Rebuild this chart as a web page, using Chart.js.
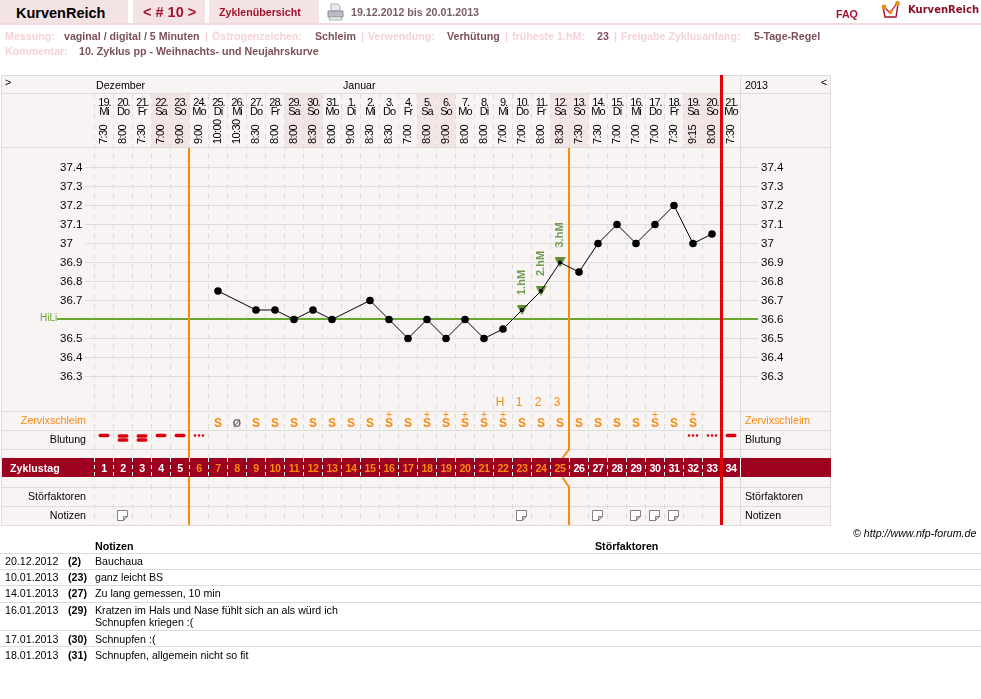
<!DOCTYPE html>
<html lang="de">
<head>
<meta charset="utf-8">
<title>KurvenReich – Zyklus 10</title>
<script src="https://cdn.jsdelivr.net/npm/chart.js@4/dist/chart.umd.min.js"></script>
<style>
  html,body{margin:0;padding:0;background:#fff;width:981px;height:699px;overflow:hidden}
  body{font-family:"Liberation Sans",Arial,sans-serif;font-size:8pt;color:#000}
  #wrap{position:absolute;left:0;top:0;width:981px;height:699px}
  .t{position:absolute;white-space:nowrap;line-height:14px}
  .b{font-weight:bold}
  .k{color:#f6d2d5;font-weight:bold}
  .v{color:#7d5058;font-weight:bold}
  .tab{position:absolute;top:0;height:23px;background:#f3e3e5}
  .hr{position:absolute;left:0;width:981px;height:1px;background:#dddbdb}
  svg{position:absolute}
</style>
</head>
<body>
<div id="wrap"><canvas id="cycle"></canvas></div>

<!-- page header -->
<div class="tab" style="left:0;width:128px"></div>
<div class="tab" style="left:133px;width:72px"></div>
<div class="tab" style="left:209px;width:110px"></div>
<div style="position:absolute;left:0;top:23px;width:981px;height:2px;background:#f2d9dc"></div>
<span class="t b" style="left:16px;top:5px;font-size:14.5px;line-height:16px">KurvenReich</span>
<span class="t b" style="left:143px;top:4px;font-size:14.5px;line-height:16px;color:#a5122b">&lt; # 10 &gt;</span>
<span class="t b" style="left:219px;top:5px;color:#a5122b">Zyklenübersicht</span>
<svg style="left:327px;top:3px" width="17" height="18" viewBox="0 0 17 18">
  <path d="M4 1h7l2 2v5H4z" fill="#e8eaee" stroke="#a9adb3"/>
  <path d="M1 8h15v6H1z" fill="#b9bdc3" stroke="#8b8f96"/>
  <path d="M3 14h11l1 3H2z" fill="#eef0f2" stroke="#a9adb3"/>
</svg>
<span class="t b" style="left:351px;top:5px;color:#7a5f66">19.12.2012 bis 20.01.2013</span>
<span class="t b" style="left:836px;top:7px;color:#a5122b">FAQ</span>
<svg style="left:881px;top:1px" width="20" height="18" viewBox="0 0 20 18">
  <path d="M2 6l2 10h11l2-13" fill="none" stroke="#a5122b" stroke-width="1.4"/>
  <path d="M3 6l6 6 7-10" fill="none" stroke="#a5122b" stroke-width="1.2"/>
  <circle cx="3" cy="6" r="2.4" fill="#f08a10"/><circle cx="9.500" cy="11" r="2" fill="#f08a10"/><circle cx="16.500" cy="2.500" r="2.400" fill="#f08a10"/>
</svg>
<span class="t b" style="left:908px;top:3px;font-family:'DejaVu Sans';font-size:10px;color:#8a0f26">KurvenReich</span>

<span class="t k" style="left:5px;top:29px">Messung:</span>
<span class="t v" style="left:64px;top:29px">vaginal / digital / 5 Minuten</span>
<span class="t k" style="left:205px;top:29px">|</span>
<span class="t k" style="left:212px;top:29px">Östrogenzeichen:</span>
<span class="t v" style="left:315px;top:29px">Schleim</span>
<span class="t k" style="left:361px;top:29px">|</span>
<span class="t k" style="left:368px;top:29px">Verwendung:</span>
<span class="t v" style="left:447px;top:29px">Verhütung</span>
<span class="t k" style="left:505px;top:29px">|</span>
<span class="t k" style="left:512px;top:29px">früheste 1.hM:</span>
<span class="t v" style="left:597px;top:29px">23</span>
<span class="t k" style="left:614px;top:29px">|</span>
<span class="t k" style="left:621px;top:29px">Freigabe Zyklusanfang:</span>
<span class="t v" style="left:754px;top:29px">5-Tage-Regel</span>
<span class="t k" style="left:5px;top:44px">Kommentar:</span>
<span class="t v" style="left:79px;top:44px">10. Zyklus pp - Weihnachts- und Neujahrskurve</span>

<span class="t" style="left:853px;top:526px;font-style:italic">© http://www.nfp-forum.de</span>

<!-- notes table -->
<span class="t b" style="left:95px;top:539px">Notizen</span>
<span class="t b" style="left:595px;top:539px">Störfaktoren</span>
<div class="hr" style="top:553px"></div>
<span class="t" style="left:5px;top:554px">20.12.2012</span><span class="t b" style="left:68px;top:554px">(2)</span><span class="t" style="left:95px;top:554px">Bauchaua</span>
<div class="hr" style="top:569px"></div>
<span class="t" style="left:5px;top:570px">10.01.2013</span><span class="t b" style="left:68px;top:570px">(23)</span><span class="t" style="left:95px;top:570px">ganz leicht BS</span>
<div class="hr" style="top:585px"></div>
<span class="t" style="left:5px;top:586px">14.01.2013</span><span class="t b" style="left:68px;top:586px">(27)</span><span class="t" style="left:95px;top:586px">Zu lang gemessen, 10 min</span>
<div class="hr" style="top:602px"></div>
<span class="t" style="left:5px;top:603px">16.01.2013</span><span class="t b" style="left:68px;top:603px">(29)</span><span class="t" style="left:95px;top:603px">Kratzen im Hals und Nase fühlt sich an als würd ich</span><span class="t" style="left:95px;top:615px">Schnupfen kriegen :(</span>
<div class="hr" style="top:630px"></div>
<span class="t" style="left:5px;top:632px">17.01.2013</span><span class="t b" style="left:68px;top:632px">(30)</span><span class="t" style="left:95px;top:632px">Schnupfen :(</span>
<div class="hr" style="top:646px"></div>
<span class="t" style="left:5px;top:648px">18.01.2013</span><span class="t b" style="left:68px;top:648px">(31)</span><span class="t" style="left:95px;top:648px">Schnupfen, allgemein nicht so fit</span>

<script>
// Chart data for one cycle: one entry per calendar day
const cycleDays = [1,2,3,4,5,6,7,8,9,10,11,12,13,14,15,16,17,18,19,20,21,22,23,24,25,26,27,28,29,30,31,32,33,34];
const dayOfMonth = ['19.','20.','21.','22.','23.','24.','25.','26.','27.','28.','29.','30.','31.','1.','2.','3.','4.','5.','6.','7.','8.','9.','10.','11.','12.','13.','14.','15.','16.','17.','18.','19.','20.','21.'];
const weekdays = ['Mi','Do','Fr','Sa','So','Mo','Di','Mi','Do','Fr','Sa','So','Mo','Di','Mi','Do','Fr','Sa','So','Mo','Di','Mi','Do','Fr','Sa','So','Mo','Di','Mi','Do','Fr','Sa','So','Mo'];
const measureTimes = ['7:30','8:00','7:30','7:00','9:00','9:00','10:00','10:30','8:30','8:00','8:00','8:30','8:00','9:00','8:30','8:30','7:00','8:00','9:00','8:00','8:00','7:00','7:00','8:00','8:30','7:30','7:30','7:00','7:00','7:00','7:30','9:15','8:00','7:30'];
const temperatures = [null,null,null,null,null,null,36.75,null,36.65,36.65,36.6,36.65,36.6,null,36.7,36.6,36.5,36.6,36.5,36.6,36.5,36.55,36.65,36.75,36.9,36.85,37,37.1,37,37.1,37.2,37,37.05,null];
const temperatureTicks = [37.4,37.3,37.2,37.1,37,36.9,36.8,36.7,36.6,36.5,36.4,36.3];
const coverLine = 36.6;
const peakDays = [23,24,25];
const peakLabels = ['1.hM','2.hM','3.hM'];
const mucusRow = ['','','','','','','S','Ø','S','S','S','S','S','S','S','S+','S','S+','S+','S+','S+','S+','S','S','S','S','S','S','S','S+','S','S+','',''];
const bleedingRow = ['single','double','double','single','single','dots','','','','','','','','','','','','','','','','','','','','','','','','','','dots','dots','single'];
const noteDays = [2,23,27,29,30,31];
const peakCountDays = [22,23,24,25];
const peakCountLabels = ['H','1','2','3'];
const fertileStartDay = 5;   // fertile window opens after this cycle day
const fertileEndDay = 25;    // and closes after this one
const lastEntryDay = 33;

const ORANGE = '#f98a10', RED = '#e00006', GRID = '#dedbdb', GREEN = '#6aa52e', BAND = '#9e0020';
const SANS = '"Liberation Sans", Arial, sans-serif';
const BODY_SIZE = 10.67;

function label(ctx, text, x, y, opts) {
  const o = opts || {};
  ctx.font = (o.weight ? o.weight + ' ' : '') + (o.size || BODY_SIZE) + 'px ' + SANS;
  ctx.fillStyle = o.color || '#000';
  ctx.textAlign = o.align || 'left';
  ctx.textBaseline = 'middle';
  ctx.letterSpacing = o.spacing || '0px';
  ctx.fillText(text, x, y + 1);
  ctx.letterSpacing = '0px';
}

// Downward marker for the peak days, centred on its value
function peakMarker() {
  const c = document.createElement('canvas');
  c.width = 11; c.height = 10;
  const g = c.getContext('2d');
  g.fillStyle = '#5f9030';
  g.beginPath(); g.moveTo(0, 0); g.lineTo(11, 0); g.lineTo(5.5, 10); g.closePath(); g.fill();
  return c;
}

// Panel background, calendar header cells and the row rules
const panelBackground = {
  id: 'panelBackground',
  beforeDraw(chart) {
    const { ctx, scales: { x } } = chart;
    ctx.save();
    ctx.fillStyle = '#f9f4f4';
    ctx.fillRect(1, 75, 830, 451);
    ctx.fillStyle = '#f3e5e6';
    weekdays.forEach((d, i) => {
      if (d === 'Sa' || d === 'So') {
        ctx.fillRect(x.getPixelForValue(i - 0.5), 94, x.getPixelForValue(i + 0.5) - x.getPixelForValue(i - 0.5), 54);
      }
    });
    ctx.restore();
  }
};

// Everything that lives in the calendar strips above and below the curve
const cycleStrips = {
  id: 'cycleStrips',
  beforeDatasetsDraw(chart) {
    const { ctx, scales: { x, yLeft } } = chart;
    const right = x.getPixelForValue(cycleDays.length - 0.5);
    const edge = i => x.getPixelForValue(i - 0.5);
    ctx.save();

    // rules
    ctx.strokeStyle = GRID;
    ctx.lineWidth = 1;
    ctx.beginPath();
    [75.5, 93.5, 147.5, 411.5, 430.5, 449.5, 487.5, 506.5, 525.5].forEach(y => { ctx.moveTo(1, y); ctx.lineTo(831, y); });
    ctx.moveTo(1.5, 75); ctx.lineTo(1.5, 526);
    ctx.moveTo(830.5, 75); ctx.lineTo(830.5, 526);
    ctx.moveTo(right, 75); ctx.lineTo(right, 526);
    ctx.stroke();

    // calendar header
    label(ctx, '>', 5, 82);
    label(ctx, 'Dezember', 96, 85);
    label(ctx, 'Januar', 343, 85);
    label(ctx, '2013', 745, 85, { spacing: '-0.3px' });
    label(ctx, '<', 821, 82);
    cycleDays.forEach((_, i) => {
      const cx = x.getPixelForValue(i);
      label(ctx, dayOfMonth[i], cx + 0.5, 102, { align: 'center', spacing: '-1px', size: 11 });
      label(ctx, weekdays[i], cx, 111, { align: 'center', spacing: '-1px', size: 11 });
      ctx.save();
      ctx.translate(cx - 1, 144);
      ctx.rotate(-Math.PI / 2);
      label(ctx, measureTimes[i], 0, 0, { spacing: '-0.6px', size: 11 });
      ctx.restore();
    });

    // row captions on both sides of the grid
    [['Zervixschleim', 420, ORANGE], ['Blutung', 439, '#000'], ['Störfaktoren', 496, '#000'], ['Notizen', 515, '#000']].forEach(([t, y, c]) => {
      label(ctx, t, 86, y, { align: 'right', color: c });
      label(ctx, t, 745, y, { color: c });
    });

    // peak count row
    peakCountDays.forEach((d, i) => {
      label(ctx, peakCountLabels[i], x.getPixelForValue(d - 1) - 3, 402, { align: 'center', color: ORANGE, size: 12 });
    });

    // cervical mucus symbols
    mucusRow.forEach((code, i) => {
      if (!code) return;
      const cx = x.getPixelForValue(i);
      if (code === 'Ø') { label(ctx, 'Ø', cx, 423, { align: 'center', color: '#7a666b', weight: 'bold' }); return; }
      label(ctx, 'S', cx, 423, { align: 'center', color: ORANGE, weight: 'bold', size: 12 });
      if (code === 'S+') label(ctx, '+', cx, 414.5, { align: 'center', color: ORANGE, size: 10 });
    });

    // bleeding marks
    ctx.fillStyle = '#d8000c';
    bleedingRow.forEach((kind, i) => {
      const cx = x.getPixelForValue(i);
      const dash = y => { ctx.beginPath(); ctx.roundRect(cx - 5.5, y - 1.75, 11, 3.5, 1.75); ctx.fill(); };
      if (kind === 'single') dash(435.5);
      if (kind === 'double') { dash(436); dash(440); }
      if (kind === 'dots') [-4, 0, 4].forEach(o => { ctx.beginPath(); ctx.arc(cx + o, 435.5, 1.3, 0, Math.PI * 2); ctx.fill(); });
    });

    // cycle-day band
    ctx.fillStyle = BAND;
    ctx.fillRect(2, 458, 829, 19);
    label(ctx, 'Zyklustag', 10, 468, { color: '#fff', weight: 'bold' });
    ctx.strokeStyle = '#fff';
    ctx.setLineDash([4, 3]);
    ctx.beginPath();
    cycleDays.forEach((_, i) => { ctx.moveTo(edge(i), 458); ctx.lineTo(edge(i), 477); });
    ctx.stroke();
    ctx.setLineDash([]);
    ctx.beginPath(); ctx.moveTo(right, 458); ctx.lineTo(right, 477); ctx.stroke();
    cycleDays.forEach((d, i) => {
      const fertile = d > fertileStartDay && d <= fertileEndDay;
      label(ctx, String(d), x.getPixelForValue(i), 468, { align: 'center', color: fertile ? ORANGE : '#fff', weight: 'bold', spacing: '-0.5px' });
    });

    // note icons
    noteDays.forEach(d => {
      const cx = x.getPixelForValue(d - 1) - 0.5, top = 510.5;
      ctx.fillStyle = '#fff';
      ctx.strokeStyle = '#85807f';
      ctx.beginPath();
      ctx.moveTo(cx - 5, top); ctx.lineTo(cx + 5, top); ctx.lineTo(cx + 5, top + 6);
      ctx.lineTo(cx + 1, top + 10); ctx.lineTo(cx - 5, top + 10); ctx.closePath();
      ctx.fill(); ctx.stroke();
      ctx.fillStyle = '#cfcbcb';
      ctx.beginPath();
      ctx.moveTo(cx + 5, top + 6); ctx.lineTo(cx + 1, top + 6); ctx.lineTo(cx + 1, top + 10); ctx.closePath();
      ctx.fill(); ctx.stroke();
    });

    // cover line
    const yCover = Math.floor(yLeft.getPixelForValue(coverLine));
    ctx.strokeStyle = GREEN;
    ctx.lineWidth = 2;
    ctx.beginPath(); ctx.moveTo(57, yCover); ctx.lineTo(758, yCover); ctx.stroke();
    label(ctx, 'HiLi', 40, yCover - 1.5, { color: GREEN, size: 10 });

    // fertile window limits, broken around the band
    ctx.strokeStyle = ORANGE;
    ctx.lineWidth = 2;
    const xs = x.getPixelForValue(fertileStartDay - 0.5) - 0.5;
    const xe = x.getPixelForValue(fertileEndDay - 0.5) - 0.5;
    ctx.beginPath();
    ctx.moveTo(xs, 148); ctx.lineTo(xs, 458);
    ctx.moveTo(xs, 477); ctx.lineTo(xs, 525);
    ctx.moveTo(xe, 148); ctx.lineTo(xe, 449.5); ctx.lineTo(xe - 6.5, 458);
    ctx.moveTo(xe - 6.5, 477.5); ctx.lineTo(xe, 487); ctx.lineTo(xe, 525);
    ctx.stroke();

    // today marker
    ctx.strokeStyle = RED;
    ctx.lineWidth = 3;
    const today = x.getPixelForValue(lastEntryDay - 0.5);
    ctx.beginPath(); ctx.moveTo(today, 75); ctx.lineTo(today, 525); ctx.stroke();

    ctx.restore();
  },
  afterDatasetsDraw(chart) {
    const { ctx, scales: { x, yLeft } } = chart;
    peakDays.forEach((d, i) => {
      ctx.save();
      ctx.translate(x.getPixelForValue(d - 1), yLeft.getPixelForValue(temperatures[d - 1]) - 15);
      ctx.rotate(-Math.PI / 2);
      label(ctx, peakLabels[i], 0, -1, { color: '#6f9a4f', weight: 'bold', size: 11 });
      ctx.restore();
    });
  }
};

const tickText = v => (v === 37 ? '37' : v.toFixed(1));
const axisFont = { family: SANS, size: 11.5 };
const pinTicks = scale => { scale.ticks = temperatureTicks.map(value => ({ value })); };

new Chart(document.getElementById('cycle'), {
  type: 'line',
  data: {
    labels: cycleDays,
    datasets: [
      {
        label: 'Temperatur',
        data: temperatures,
        yAxisID: 'yLeft',
        order: 0,
        spanGaps: true,
        tension: 0,
        borderColor: '#000',
        borderWidth: 1,
        pointBackgroundColor: '#000',
        pointBorderWidth: 0,
        pointRadius: c => (peakDays.includes(c.dataIndex + 1) ? 2 : 3.8),
        pointHoverRadius: 3.8
      },
      {
        label: 'Höhepunkt',
        data: temperatures.map((v, i) => (peakDays.includes(i + 1) ? v : null)),
        yAxisID: 'yLeft',
        order: 1,
        showLine: false,
        pointStyle: peakMarker(),
        pointRadius: 5,
        pointBorderWidth: 0
      }
    ]
  },
  plugins: [panelBackground, cycleStrips],
  options: {
    responsive: true,
    maintainAspectRatio: false,
    animation: false,
    events: [],
    layout: { autoPadding: false, padding: { left: 60, right: 151, top: 94, bottom: 174 } },
    plugins: { legend: { display: false }, title: { display: false }, tooltip: { enabled: false } },
    scales: {
      x: {
        type: 'category',
        offset: true,
        position: 'bottom',
        afterFit: s => { s.height = 0; },
        ticks: { display: false, autoSkip: false },
        grid: { offset: true, color: GRID, drawTicks: false, lineWidth: 1 },
        border: { display: false, dash: [5, 5] }
      },
      yLeft: {
        type: 'linear',
        position: 'left',
        min: 35.5184,
        max: 37.7868,
        afterBuildTicks: pinTicks,
        afterFit: s => { s.width = 34.5; },
        // the cover line carries its own caption on this side
        ticks: { color: '#000', font: axisFont, padding: 2, crossAlign: 'far', callback: v => (v === coverLine ? '' : tickText(v)), autoSkip: false },
        grid: { color: GRID, tickColor: GRID, tickLength: 9.5, lineWidth: 1 },
        border: { display: false }
      },
      yRight: {
        type: 'linear',
        position: 'right',
        min: 35.5184,
        max: 37.7868,
        afterBuildTicks: pinTicks,
        afterFit: s => { s.width = 89.5; },
        ticks: { color: '#000', font: axisFont, padding: 3, callback: tickText, autoSkip: false },
        grid: { drawOnChartArea: false, tickColor: GRID, tickLength: 17.5, lineWidth: 1 },
        border: { display: false }
      }
    }
  }
});
</script>
</body>
</html>
